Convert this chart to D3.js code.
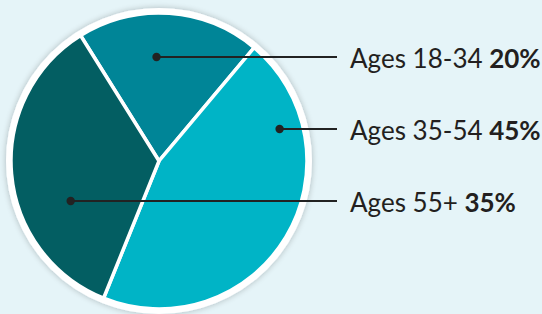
<!DOCTYPE html>
<html>
<head>
<meta charset="utf-8">
<script src="https://cdn.jsdelivr.net/npm/d3@7"></script>
<style>
  html, body { margin: 0; padding: 0; background: #e5f4f8; }
  svg { display: block; }
</style>
</head>
<body>
<svg id="chart" width="542" height="314"></svg>
<script>
// data
const categories = ["Ages 18-34", "Ages 35-54", "Ages 55+"];
const shares = [20, 45, 35];
const shareLabels = ["20%", "45%", "35%"];
const colors = ["#008597", "#00b4c6", "#035e62"];

const width = 542, height = 314;
const cx = 159, cy = 161, radius = 148;
const startDeg = -32; // first slice begins left of 12 o'clock

const svg = d3.select("#chart");

const defs = svg.append("defs");
const shadow = defs.append("filter").attr("id", "shadow")
  .attr("x", "-20%").attr("y", "-20%").attr("width", "140%").attr("height", "140%");
shadow.append("feGaussianBlur").attr("in", "SourceAlpha").attr("stdDeviation", 3);
shadow.append("feComponentTransfer").append("feFuncA").attr("type", "linear").attr("slope", 0.25);
const merge = shadow.append("feMerge");
merge.append("feMergeNode");
merge.append("feMergeNode").attr("in", "SourceGraphic");

const g = svg.append("g").attr("transform", `translate(${cx},${cy})`);

// white ring with soft shadow
g.append("circle")
  .attr("r", radius + 2.5)
  .attr("fill", "#fff")
  .attr("stroke", "#fff")
  .attr("stroke-width", 5)
  .attr("filter", "url(#shadow)");

const a0 = startDeg * Math.PI / 180;
const pie = d3.pie().sort(null).value(d => d).startAngle(a0).endAngle(a0 + 2 * Math.PI);
const arcs = pie(shares);
const arc = d3.arc().innerRadius(0).outerRadius(radius);

g.selectAll("path.slice")
  .data(arcs)
  .enter()
  .append("path")
  .attr("class", "slice")
  .attr("d", arc)
  .attr("fill", (d, i) => colors[i])
  .attr("stroke", "#fff")
  .attr("stroke-width", 3.5)
  .attr("stroke-linejoin", "miter");

// callout rows
const rowY = d3.scalePoint().domain(categories).range([57, 201]);
const lineEnd = 337, textX = 350;
const chordPos = [0.41, 0.8, 0.43]; // where along the slice's horizontal chord the dot sits

function inSlice(ang, d) {
  let a = ang;
  while (a < d.startAngle) a += 2 * Math.PI;
  return a <= d.endAngle;
}

arcs.forEach((d, i) => {
  const y = rowY(categories[i]);
  const dy = y - cy;
  const half = Math.sqrt(radius * radius - dy * dy);
  let lo = null, hi = null;
  for (let x = cx - half; x <= cx + half; x += 0.5) {
    const ang = Math.atan2(x - cx, -(dy));
    if (inSlice(ang, d)) {
      if (lo === null) lo = x;
      hi = x;
    }
  }
  const dotX = lo + chordPos[i] * (hi - lo);

  svg.append("line")
    .attr("x1", dotX).attr("y1", y)
    .attr("x2", lineEnd).attr("y2", y)
    .attr("stroke", "#222")
    .attr("stroke-width", 2);
  svg.append("circle")
    .attr("cx", dotX).attr("cy", y)
    .attr("r", 4.2)
    .attr("fill", "#222");

  const t = svg.append("text")
    .attr("x", textX).attr("y", y + 11)
    .attr("font-family", "Lato, 'Open Sans', sans-serif")
    .attr("font-size", 26)
    .attr("fill", "#231f20");
  t.append("tspan").text(categories[i] + " ");
  t.append("tspan").attr("font-weight", "bold").text(shareLabels[i]);
});
</script>
</body>
</html>
